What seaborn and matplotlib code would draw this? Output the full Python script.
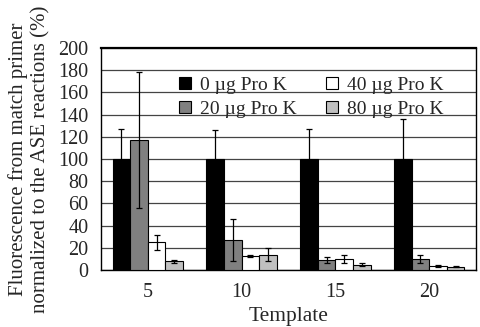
import numpy as np
import pandas as pd
import seaborn as sns
import matplotlib
matplotlib.use("Agg")
import matplotlib.pyplot as plt
from matplotlib.ticker import FixedLocator

# Data
templates = ["5", "10", "15", "20"]
doses = ["0 \u00b5g Pro K", "20 \u00b5g Pro K", "40 \u00b5g Pro K", "80 \u00b5g Pro K"]
means = {
    "0 \u00b5g Pro K": [100, 100, 100, 100],
    "20 \u00b5g Pro K": [117, 27, 9, 10],
    "40 \u00b5g Pro K": [25, 13, 10, 4],
    "80 \u00b5g Pro K": [8, 14, 5, 3],
}
errors = {
    "0 \u00b5g Pro K": [27, 26, 27, 36],
    "20 \u00b5g Pro K": [61, 19, 3, 4],
    "40 \u00b5g Pro K": [6.5, 1, 3.5, 0.8],
    "80 \u00b5g Pro K": [1.3, 5.5, 1.5, 0.6],
}
colors = ["#000000", "#808080", "#ffffff", "#c0c0c0"]

rows = []
for d in doses:
    for t, m, e in zip(templates, means[d], errors[d]):
        rows.append({"Template": t, "dose": d, "value": m, "err": e})
df = pd.DataFrame(rows)

sns.set_style("white")
plt.rcParams["font.family"] = ["Liberation Serif", "DejaVu Serif"]

fig = plt.figure(figsize=(4.8, 3.27), dpi=100)
ax = fig.add_axes([0.210, 0.174, 0.782, 0.679])

sns.barplot(data=df, x="Template", y="value", hue="dose", order=templates,
            hue_order=doses, palette=colors, width=0.75, errorbar=None,
            edgecolor="black", linewidth=0.8, saturation=1, ax=ax, zorder=3)

# error bars placed on the bar centres
bars = ax.patches[:len(df)]
i = 0
for d in doses:
    for j, t in enumerate(templates):
        p = bars[i]
        i += 1
        x = p.get_x() + p.get_width() / 2
        ax.errorbar(x, means[d][j], yerr=errors[d][j], fmt="none",
                    ecolor="black", elinewidth=0.9, capsize=2.5,
                    capthick=0.9, zorder=4)

ax.set_ylim(0, 200)
ax.set_yticks(np.arange(0, 201, 20))
ax.set_xlim(-0.5, 3.5)
ax.yaxis.grid(True, color="#444444", linewidth=0.9, zorder=0)
ax.set_axisbelow(True)
for s in ax.spines.values():
    s.set_color("black")
    s.set_linewidth(1.0)
ax.spines["top"].set_linewidth(1.6)

ax.tick_params(axis="x", which="major", length=0, labelsize=14.5, pad=9)
ax.xaxis.set_minor_locator(FixedLocator([0.5, 1.5, 2.5]))
ax.tick_params(axis="x", which="minor", length=3, width=0.8, direction="out")
ax.tick_params(axis="y", length=3, width=0.8, direction="out", labelsize=14.5, pad=6)

ax.set_xlabel("Template", fontsize=15.5, labelpad=4)
ax.set_ylabel("Fluorescence from match primer\nnormalized to the ASE reactions (%)",
              fontsize=15, linespacing=1.2)
ax.yaxis.set_label_coords(-0.135, 0.5)

leg = ax.legend(loc="upper right", ncol=2, frameon=False, fontsize=14,
                bbox_to_anchor=(0.935, 0.905), handlelength=0.6, handleheight=0.6,
                handletextpad=0.5, columnspacing=1.5, labelspacing=0.35,
                borderaxespad=0.0)
for h in leg.legend_handles:
    h.set_edgecolor("black")
    h.set_linewidth(0.8)

fig.savefig("out.png", dpi=100)
